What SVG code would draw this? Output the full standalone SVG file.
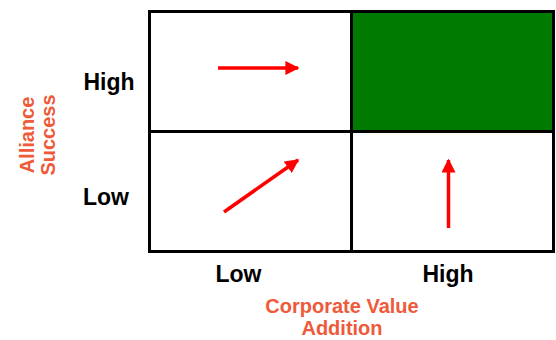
<svg xmlns="http://www.w3.org/2000/svg" width="556" height="340" viewBox="0 0 556 340">
  <style>
    .cell { fill: #ffffff; stroke: #000000; stroke-width: 3; }
    .lvl { font-family: "Liberation Sans", Arial, sans-serif; font-weight: bold; font-size: 23px; fill: #000000; text-anchor: middle; }
    .axis { font-family: "Liberation Sans", Arial, sans-serif; font-weight: bold; font-size: 20px; fill: #EE5A3A; text-anchor: middle; }
    .arrow { stroke: #ff0000; stroke-width: 3.5; fill: none; marker-end: url(#head); }
  </style>
  <defs>
    <marker id="head" viewBox="0 0 10 10" refX="9" refY="5" markerWidth="4" markerHeight="4" markerUnits="strokeWidth" orient="auto">
      <path d="M0,0 L10,5 L0,10 Z" fill="#ff0000"/>
    </marker>
  </defs>

  <!-- quadrant cells -->
  <g id="cell-low-high">
    <rect class="cell" x="149.5" y="11.5" width="202" height="120"/>
  </g>
  <g id="cell-high-high">
    <rect class="cell" x="351.5" y="11.5" width="202" height="120" style="fill:#007A00"/>
  </g>
  <g id="cell-low-low">
    <rect class="cell" x="149.5" y="131.5" width="202" height="120"/>
  </g>
  <g id="cell-high-low">
    <rect class="cell" x="351.5" y="131.5" width="202" height="120"/>
  </g>

  <!-- movement arrows -->
  <g id="connectors">
    <line class="arrow" x1="218" y1="68" x2="298" y2="68"/>
    <line class="arrow" x1="224" y1="212" x2="298" y2="160"/>
    <line class="arrow" x1="448.5" y1="228" x2="448.5" y2="160"/>
  </g>

  <!-- level labels -->
  <g id="labels">
    <text class="lvl" x="109" y="90">High</text>
    <text class="lvl" x="106" y="205">Low</text>
    <text class="lvl" x="238.5" y="282">Low</text>
    <text class="lvl" x="448" y="282">High</text>
  </g>

  <!-- axis titles -->
  <g id="axis-x">
    <text class="axis" x="342" y="313">Corporate Value</text>
    <text class="axis" x="342" y="335">Addition</text>
  </g>
  <g id="axis-y">
    <text class="axis" transform="translate(34,135) rotate(-90)">Alliance</text>
    <text class="axis" transform="translate(55,135) rotate(-90)">Success</text>
  </g>
</svg>
